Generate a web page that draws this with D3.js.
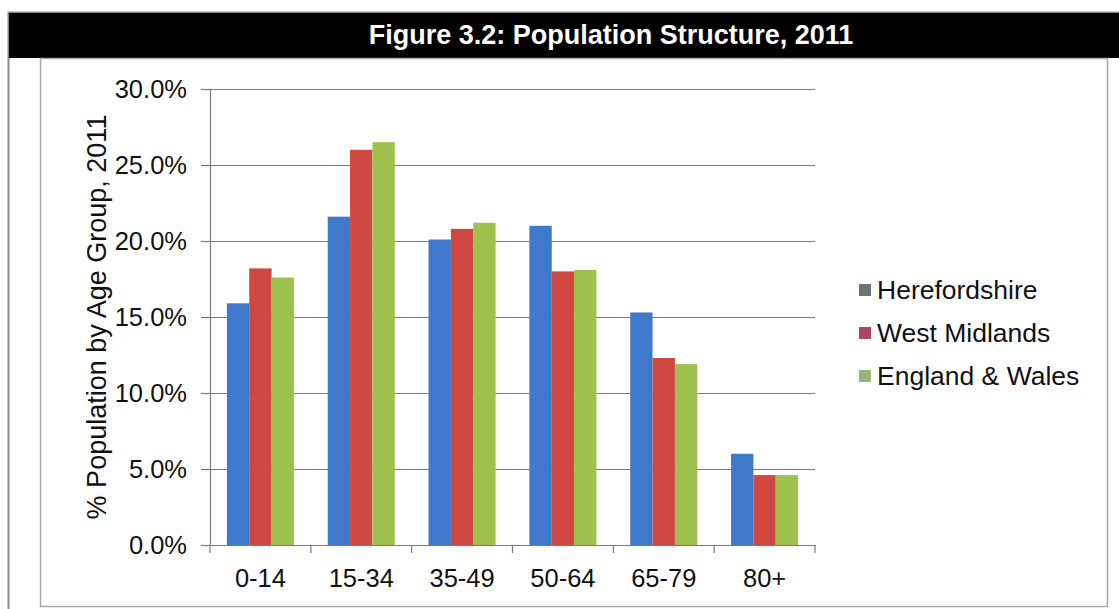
<!DOCTYPE html>
<html>
<head>
<meta charset="utf-8">
<script src="https://cdn.jsdelivr.net/npm/d3@7"></script>
<style>
  body { margin: 0; background: #fff; }
  svg { display: block; font-family: "Liberation Sans", Arial, sans-serif; }
</style>
</head>
<body>
<svg id="chart" width="1119" height="609"></svg>
<script>
// age groups and % of population per area (2011)
var ageGroups = ["0-14", "15-34", "35-49", "50-64", "65-79", "80+"];
var seriesNames = ["Herefordshire", "West Midlands", "England & Wales"];
var herefordshire = [15.9, 21.6, 20.1, 21.0, 15.3, 6.0];
var westMidlands = [18.2, 26.0, 20.8, 18.0, 12.3, 4.6];
var englandWales = [17.6, 26.5, 21.2, 18.1, 11.9, 4.6];
var yTicks = [0, 5, 10, 15, 20, 25, 30];

var BAR_COLORS = ["#3f79cb", "#cf4842", "#9cc24d"];
var KEY_COLORS = ["#667873", "#b04561", "#9cb479"];

var values = [herefordshire, westMidlands, englandWales];
var rows = ageGroups.map(function(g, i) {
    return { group: g, vals: values.map(function(v, s) { return { s: s, v: v[i] }; }) };
});

var svg = d3.select("#chart");

// outer border + black title bar
svg.append("rect")
    .attr("x", 8.5).attr("y", 12.5)
    .attr("width", 1130).attr("height", 620)
    .style("fill", "#fff").style("stroke", "#8a8a8a").style("stroke-width", 2);
svg.append("rect")
    .attr("x", 9).attr("y", 13)
    .attr("width", 1110).attr("height", 45)
    .style("fill", "#000");
svg.append("text")
    .attr("x", 611).attr("y", 44)
    .attr("text-anchor", "middle")
    .style("font-size", "27px").style("font-weight", "bold").style("fill", "#fff")
    .text("Figure 3.2: Population Structure, 2011");

// chart frame
svg.append("rect")
    .attr("x", 40.5).attr("y", 58.5)
    .attr("width", 1067).attr("height", 548)
    .style("fill", "#fff").style("stroke", "#a8a8a8").style("stroke-width", 1.5);

var plot = { left: 210, right: 815, top: 89, bottom: 545 };

var x0 = d3.scaleBand()
    .domain(ageGroups)
    .range([plot.left, plot.right])
    .paddingInner(0.335)
    .paddingOuter(0.1675);
var x1 = d3.scaleBand()
    .domain(d3.range(seriesNames.length))
    .range([0, x0.bandwidth()]);
var y = d3.scaleLinear().domain([0, 30]).range([plot.bottom, plot.top]);

// gridlines
svg.append("g")
    .selectAll("line")
    .data(yTicks.slice(1))
    .join("line")
    .attr("x1", plot.left).attr("x2", plot.right)
    .attr("y1", function(d) { return Math.round(y(d)) + 0.5; })
    .attr("y2", function(d) { return Math.round(y(d)) + 0.5; })
    .style("stroke", "#7a7a7a").style("stroke-width", 1.2);

// bars
svg.append("g")
    .selectAll("g")
    .data(rows)
    .join("g")
    .attr("transform", function(d) { return "translate(" + x0(d.group) + ",0)"; })
    .selectAll("rect")
    .data(function(d) { return d.vals; })
    .join("rect")
    .attr("x", function(d) { return x1(d.s); })
    .attr("width", x1.bandwidth())
    .attr("y", function(d) { return y(d.v); })
    .attr("height", function(d) { return y(0) - y(d.v); })
    .style("fill", function(d) { return BAR_COLORS[d.s]; });

// y axis
var yAxis = svg.append("g")
    .attr("transform", "translate(" + plot.left + ",0)")
    .call(d3.axisLeft(y).tickValues(yTicks)
        .tickFormat(function(d) { return d.toFixed(1) + "%"; })
        .tickSize(9).tickSizeOuter(0).tickPadding(14));
yAxis.select(".domain").style("stroke", "#7a7a7a").style("stroke-width", 1.2);
yAxis.selectAll(".tick line").style("stroke", "#7a7a7a").style("stroke-width", 1.2);
yAxis.selectAll("text")
    .style("font-size", "25.5px").style("fill", "#111")
    .style("font-family", "'Liberation Sans', Arial, sans-serif");

// x axis - ticks on the category boundaries like Excel
var xAxis = svg.append("g")
    .attr("transform", "translate(0," + plot.bottom + ")")
    .call(d3.axisBottom(x0).tickSize(0).tickPadding(24));
xAxis.select(".domain").style("stroke", "#7a7a7a").style("stroke-width", 1.2);
xAxis.selectAll("text")
    .style("font-size", "25.5px").style("fill", "#111")
    .style("font-family", "'Liberation Sans', Arial, sans-serif");
var step = x0.step();
xAxis.selectAll(".boundary")
    .data(d3.range(ageGroups.length + 1))
    .join("line")
    .attr("class", "boundary")
    .attr("x1", function(i) { return plot.left + i * step; })
    .attr("x2", function(i) { return plot.left + i * step; })
    .attr("y1", 0).attr("y2", 8)
    .style("stroke", "#7a7a7a").style("stroke-width", 1.2);

// y axis title
svg.append("text")
    .attr("transform", "translate(106," + (plot.top + plot.bottom) / 2 + ") rotate(-90)")
    .attr("text-anchor", "middle")
    .style("font-size", "27px").style("fill", "#111")
    .text("% Population by Age Group, 2011");

// legend
var legend = svg.append("g")
    .selectAll("g")
    .data(seriesNames)
    .join("g")
    .attr("transform", function(d, i) { return "translate(859," + (290 + i * 43) + ")"; });
legend.append("rect")
    .attr("x", 0).attr("y", -6)
    .attr("width", 12).attr("height", 12)
    .style("fill", function(d, i) { return KEY_COLORS[i]; });
legend.append("text")
    .attr("x", 18).attr("y", 0)
    .attr("dy", "0.35em")
    .style("font-size", "26.5px").style("fill", "#111")
    .text(function(d) { return d; });
</script>
</body>
</html>
